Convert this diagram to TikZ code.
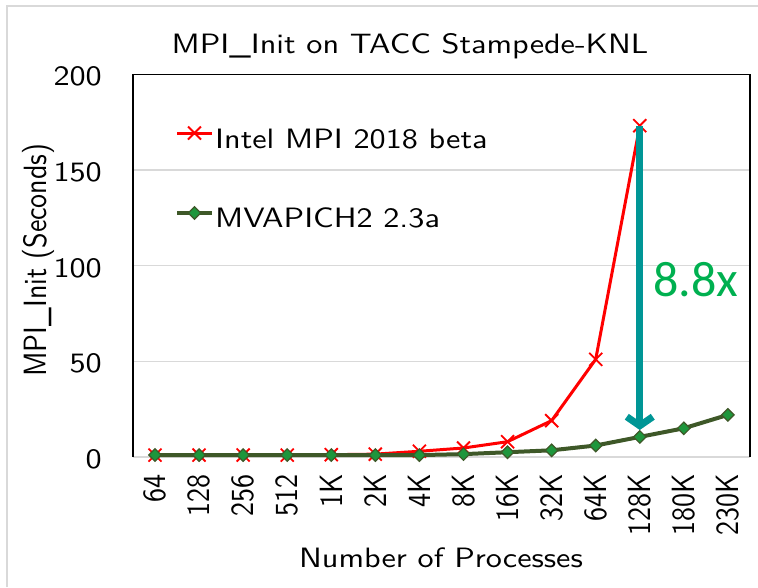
\documentclass[tikz,border=0pt]{standalone}
\usepackage{fontspec}
\usepackage{graphicx}
\setsansfont{lmsans10-regular.otf}
\newfontfamily\calibrilike{Carlito}
\usetikzlibrary{arrows.meta,shapes.geometric}
\definecolor{intelred}{RGB}{255,0,0}
\definecolor{mvline}{RGB}{62,88,40}
\definecolor{mvfill}{RGB}{30,150,60}
\definecolor{arrowteal}{RGB}{0,150,150}
\definecolor{speedgreen}{RGB}{0,176,80}
\definecolor{gridgray}{RGB}{217,217,217}
\newcommand{\hwide}[1]{\scalebox{1.15}[1]{#1}}
\newcommand{\vwide}[1]{\scalebox{1}[1.15]{#1}}
\tikzset{
  lbl/.style={font=\sffamily\fontsize{28}{32}\selectfont, inner sep=0pt},
  vlbl/.style={font=\sffamily\fontsize{28}{32}\selectfont, inner sep=0pt, rotate=90},
  gridline/.style={draw=gridgray, line width=1.5pt},
  redline/.style={draw=intelred, line width=3pt, line join=round},
  greenline/.style={draw=mvline, line width=4pt, line join=round},
  xmarker/.style={draw=intelred, line width=1.8pt},
  dmarker/.style={diamond, draw=mvline, fill=mvfill, line width=1.2pt, inner sep=0pt, minimum width=13pt, minimum height=13pt},
}
\begin{document}
\begin{tikzpicture}[x=1pt,y=-1pt]
\useasboundingbox (0,0) rectangle (758,587);
% outer border (top and left visible)
\draw[gridgray, line width=2pt] (6.5,587) -- (6.5,5.5) -- (758,5.5);
% title
\node[lbl, anchor=base] (title) at (410,53) {\hwide{MPI\_Init on TACC Stampede-KNL}};
% grid
\foreach \v in {50,100,150} {
  \draw[gridline] (133,{457-\v*1.915}) -- (750,{457-\v*1.915});
}
% axis at 0
\draw[gridline] (133,457) -- (750,457);
% frame
\draw[black, line width=1.3pt] (133,457) -- (133,74.5) -- (750,74.5) -- (750,457);
% y tick labels
\foreach \v in {0,50,100,150,200} {
  \node[lbl, anchor=base east] (ytick\v) at (102,{457-\v*1.915+11.5}) {\hwide{\v}};
}
% y axis label
\node[vlbl] (ylabel) at (38,260) {\vwide{MPI\_Init (Seconds)}};
% x tick labels
\foreach \t [count=\i from 0] in {64,128,256,512,1K,2K,4K,8K,16K,32K,64K,128K,180K,230K} {
  \node[vlbl, anchor=east] (xtick\i) at ({155+\i*44.07},474) {\vwide{\t}};
}
% x axis label
\node[lbl, anchor=base] (xlabel) at (441,567) {\hwide{Number of Processes}};
% data coordinates
\foreach \v [count=\i from 0] in {1,1,1,1,1.2,1.5,3,4.7,8,19,51,173} {
  \coordinate (r\i) at ({155+\i*44.07},{457-\v*1.915});
}
\foreach \v [count=\i from 0] in {1,1,1,1,1,1,1,1.5,2.5,3.5,6,10.5,15,22} {
  \coordinate (g\i) at ({155+\i*44.07},{457-\v*1.915});
}
% Intel MPI series
\draw[redline] (r0) \foreach \i in {1,...,11} { -- (r\i) };
\foreach \i in {0,...,11} {
  \draw[xmarker, shift={(r\i)}] (-6.5,-6.5) -- (6.5,6.5) (-6.5,6.5) -- (6.5,-6.5);
}
% MVAPICH2 series
\draw[greenline] (g0) \foreach \i in {1,...,13} { -- (g\i) };
\foreach \i in {0,...,13} {
  \node[dmarker] (gm\i) at (g\i) {};
}
% legend
\coordinate (la1) at (177,133);
\coordinate (lb1) at (212,133);
\draw[redline] (la1) -- (lb1);
\draw[xmarker, shift={(194.5,133)}] (-6.5,-6.5) -- (6.5,6.5) (-6.5,6.5) -- (6.5,-6.5);
\node[lbl, anchor=base west] (leg1) at (215,148) {\hwide{Intel MPI 2018 beta}};
\coordinate (la2) at (177,213);
\coordinate (lb2) at (212,213);
\draw[greenline] (la2) -- (lb2);
\node[dmarker] (legm2) at (194.5,213) {};
\node[lbl, anchor=base west] (leg2) at (215,227) {\hwide{MVAPICH2 2.3a}};
% speedup arrow
\coordinate (atop) at (r11);
\coordinate (abot) at ({155+11*44.07},430);
\draw[arrowteal, line width=7pt, -{Straight Barb[length=9pt,width=26pt,line width=7pt]}] (atop) -- (abot);
\node[font=\calibrilike\fontsize{50}{56}\selectfont, text=speedgreen, inner sep=0pt] (speed) at (696,280) {8.8x};
\end{tikzpicture}
\end{document}
